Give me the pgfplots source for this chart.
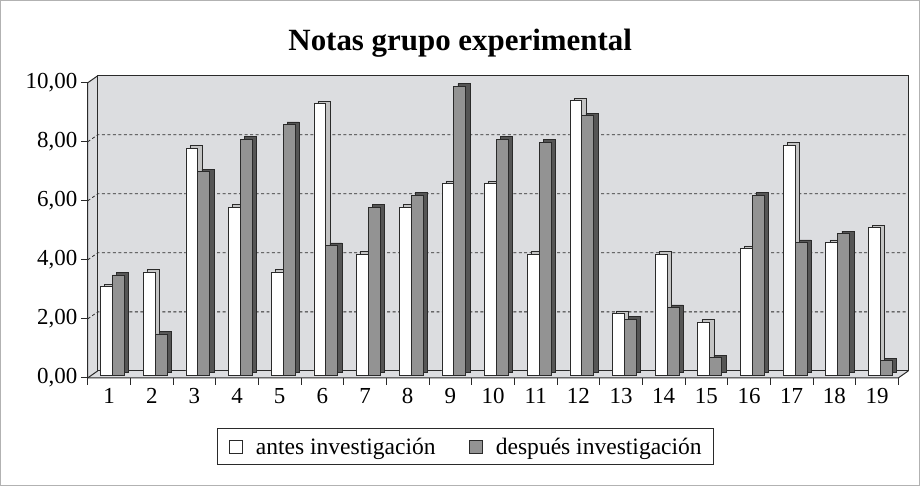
\documentclass[border=0pt]{standalone}
\usepackage{pgfplots}
\usepackage{pgfplotstable}
\pgfplotsset{compat=1.18}
\usepackage{fontspec}
\setmainfont{Liberation Serif}
\definecolor{wall}{HTML}{DCDDE0}
\definecolor{bardark}{HTML}{939393}
\definecolor{edge}{HTML}{2A2A2A}
\definecolor{sidelight}{HTML}{C4C4C4}
\definecolor{sidedark}{HTML}{555555}
\pgfplotstableread{
x antes despues
1 3.0 3.4
2 3.5 1.4
3 7.7 6.9
4 5.7 8.0
5 3.5 8.5
6 9.2 4.4
7 4.1 5.7
8 5.7 6.1
9 6.5 9.8
10 6.5 8.0
11 4.1 7.9
12 9.3 8.8
13 2.1 1.9
14 4.1 2.3
15 1.8 0.6
16 4.3 6.1
17 7.8 4.5
18 4.5 4.8
19 5.0 0.5
}\data
\begin{document}
\begin{tikzpicture}
\draw[gray!60, line width=1pt] (0.5pt,0.5pt) rectangle (922.5pt,486.5pt);
\node[font=\fontsize{31}{36}\selectfont\bfseries] at (461.5pt,444pt) {Notas grupo experimental};
\begin{axis}[
  at={(88pt,108pt)}, anchor=south west,
  scale only axis, width=813pt, height=296pt,
  xmin=0.5, xmax=19.5, ymin=0, ymax=10,
  clip=false,
  axis line style={draw=none},
  xtick={0.5,1.5,...,18.5},
  xticklabels={1,2,3,4,5,6,7,8,9,10,11,12,13,14,15,16,17,18,19},
  xticklabel style={xshift=21.4pt},
  extra x ticks={19.5}, extra x tick labels={},
  ytick={0,2,4,6,8,10},
  xtick pos=bottom, ytick pos=left,
  tick align=outside, major tick length=7pt,
  tick style={draw=edge, line width=0.8pt},
  ticklabel style={font=\fontsize{23}{26}\selectfont},
  yticklabel style={/pgf/number format/.cd, fixed, fixed zerofill, precision=2, use comma, assume math mode=true},
  /pgf/number format/assume math mode=true,
  legend image code/.code={\draw[#1] (0pt,-6.5pt) rectangle (13pt,6.5pt); \path (26.3pt,0pt);},
  legend columns=2,
  legend style={at={(axis description cs:0.4658,-0.2331)}, anchor=center,
    draw=edge, line width=0.8pt, font=\fontsize{23.6}{26}\selectfont,
    inner xsep=11.6pt, inner ysep=9pt,
    nodes={inner sep=0pt},
    /tikz/every even column/.append style={column sep=33.3pt}},
]
% walls
\fill[wall] (axis cs:0.5,0) -- (axis cs:0.5,10) -- ([shift={(10pt,7pt)}]axis cs:0.5,10) -- ([shift={(10pt,7pt)}]axis cs:19.5,10) -- ([shift={(10pt,7pt)}]axis cs:19.5,0) -- (axis cs:19.5,0) -- cycle;
% grid
\draw[edge, line width=0.8pt, dash pattern=on 3pt off 2.5pt] (axis cs:0.5,2) -- ([shift={(10pt,7pt)}]axis cs:0.5,2) -- ([shift={(10pt,7pt)}]axis cs:19.5,2);
\draw[edge, line width=0.8pt, dash pattern=on 3pt off 2.5pt] (axis cs:0.5,4) -- ([shift={(10pt,7pt)}]axis cs:0.5,4) -- ([shift={(10pt,7pt)}]axis cs:19.5,4);
\draw[edge, line width=0.8pt, dash pattern=on 3pt off 2.5pt] (axis cs:0.5,6) -- ([shift={(10pt,7pt)}]axis cs:0.5,6) -- ([shift={(10pt,7pt)}]axis cs:19.5,6);
\draw[edge, line width=0.8pt, dash pattern=on 3pt off 2.5pt] (axis cs:0.5,8) -- ([shift={(10pt,7pt)}]axis cs:0.5,8) -- ([shift={(10pt,7pt)}]axis cs:19.5,8);
% back edges
\draw[edge, line width=1pt] ([shift={(10pt,7pt)}]axis cs:0.5,0) -- ([shift={(10pt,7pt)}]axis cs:19.5,0);
\draw[edge, line width=1pt] ([shift={(10pt,7pt)}]axis cs:0.5,0) -- ([shift={(10pt,7pt)}]axis cs:0.5,10) -- ([shift={(10pt,7pt)}]axis cs:19.5,10) -- ([shift={(10pt,7pt)}]axis cs:19.5,0);
% bars: antes
\addplot[ybar, bar width=12pt, bar shift=-6pt, fill=sidelight, draw=edge, line width=0.6pt, xshift=7.5pt, yshift=5.1pt, forget plot] table[x=x, y=antes] {\data};
\addplot[ybar, bar width=12pt, bar shift=-6pt, fill=white, draw=edge, line width=0.8pt, xshift=3.5pt, yshift=2.6pt, forget plot] table[x=x, y=antes] {\data};
% bars: despues
\addplot[ybar, bar width=12pt, bar shift=6pt, fill=sidedark, draw=edge, line width=0.6pt, xshift=7.5pt, yshift=5.1pt, forget plot] table[x=x, y=despues] {\data};
\addplot[ybar, bar width=12pt, bar shift=6pt, fill=bardark, draw=edge, line width=0.8pt, xshift=3.5pt, yshift=2.6pt, forget plot] table[x=x, y=despues] {\data};
% front edges
\draw[edge, line width=1pt] ([shift={(10pt,7pt)}]axis cs:0.5,10) -- (axis cs:0.5,10) -- (axis cs:0.5,0) -- (axis cs:19.5,0) -- ([shift={(10pt,7pt)}]axis cs:19.5,0);
\draw[edge, line width=1pt] (axis cs:0.5,0) -- ([shift={(10pt,7pt)}]axis cs:0.5,0);
\addlegendimage{draw=edge, line width=0.8pt, fill=white}
\addlegendentry{antes investigación}
\addlegendimage{draw=edge, line width=0.8pt, fill=bardark}
\addlegendentry{después investigación}
\end{axis}
\end{tikzpicture}
\end{document}
